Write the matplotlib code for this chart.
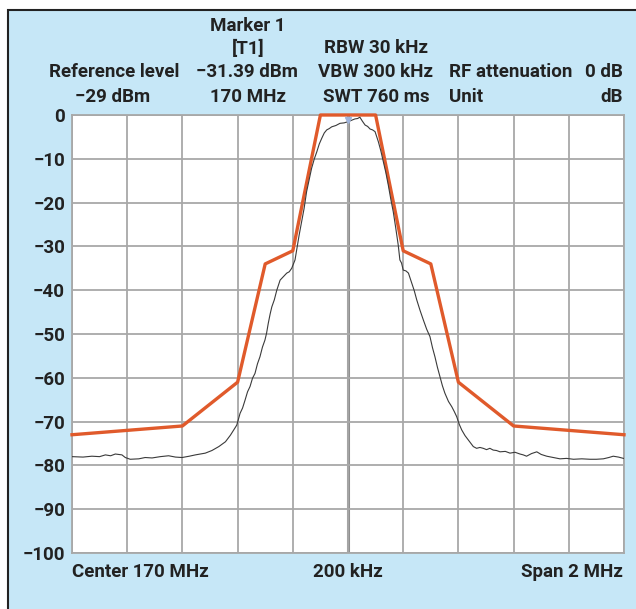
import numpy as np
import matplotlib.pyplot as plt
from matplotlib.patches import Rectangle

# 周波数オフセット (kHz, 中心 170 MHz からの差) とレベル (dB)
mask_freq = [-1000, -600, -400, -300, -200, -100, 100, 200, 300, 400, 600, 1000]
mask_level = [-73, -71, -61, -34, -31, 0, 0, -31, -34, -61, -71, -73]

trace_freq = [-1000, -960, -928, -900, -879, -860, -843, -819, -807, -789, -758, -735,
              -710, -680, -650, -625, -601, -575, -553, -517, -493, -468, -444, -426,
              -414, -403, -391, -382, -373, -364, -355, -346, -337, -328, -319, -310,
              -301, -295, -289, -282, -276, -267, -258, -246, -234, -222, -213, -204,
              -192, -186, -177, -168, -159, -150, -141, -132, -122, -113, -104, -95,
              -86, -77, -68, -59, -44, -29, -14, 1, 13, 25, 35, 43, 52, 62, 71, 80,
              89, 98, 110, 119, 128, 137, 146, 155, 164, 173, 182, 188, 194, 200, 210,
              219, 231, 240, 249, 261, 273, 285, 297, 306, 315, 324, 333, 342, 351, 364,
              376, 385, 394, 403, 412, 424, 436, 454, 466, 478, 490, 502, 514, 526, 538,
              551, 570, 587, 605, 623, 635, 647, 665, 684, 700, 720, 745, 768, 792, 817,
              847, 877, 900, 925, 945, 961, 980, 998]
trace_level = [-78.0, -78.1, -77.9, -78.0, -77.6, -77.8, -77.4, -77.6, -78.2, -78.6, -78.5, -78.2,
               -78.3, -78.0, -77.8, -78.1, -78.2, -77.9, -77.6, -77.2, -76.6, -75.7, -74.6, -73.1,
               -71.9, -70.8, -68.1, -66.9, -65.1, -63.2, -62.0, -60.1, -59.0, -56.8, -55.2, -53.0,
               -51.4, -49.8, -47.6, -45.4, -43.8, -42.2, -40.0, -37.7, -36.9, -36.1, -35.8, -35.0,
               -33.1, -30.8, -27.4, -24.4, -21.3, -17.5, -14.8, -12.2, -10.0, -8.4, -6.6, -5.3,
               -4.1, -3.4, -3.1, -2.7, -2.4, -1.9, -1.8, -1.5, -1.2, -0.9, -0.8, -0.5, -1.4, -2.3, -2.6, -3.2,
               -3.4, -3.8, -6.1, -8.2, -10.7, -13.1, -16.0, -19.2, -22.1, -25.8, -29.7, -33.1, -33.8, -35.4, -35.6,
               -36.1, -38.4, -40.1, -42.2, -44.6, -46.8, -48.9, -50.6, -53.1, -55.2, -57.6, -59.7, -61.8, -63.5, -65.4,
               -66.6, -67.7, -68.9, -70.6, -71.9, -73.2, -74.2, -75.7, -76.1, -75.9, -76.1, -76.4, -76.1, -76.5, -76.6,
               -76.9, -76.8, -77.2, -77.0, -77.4, -77.6, -77.9, -77.3, -76.9, -77.5, -77.9, -78.2, -78.5, -78.4, -78.6,
               -78.5, -78.6, -78.6, -78.5, -78.2, -77.9, -78.1, -78.4]

y_ticks = [0, -10, -20, -30, -40, -50, -60, -70, -80, -90, -100]
y_tick_labels = ['0', '−10', '−20', '−30', '−40', '−50', '−60', '−70', '−80', '−90', '−100']

plt.rcParams['font.family'] = ['Roboto', 'DejaVu Sans']
plt.rcParams['font.weight'] = 'bold'

W, H = 636, 609
fig = plt.figure(figsize=(W / 100, H / 100), dpi=100)

# 水色のパネル (左上に黒い枠線)
panel = Rectangle((8 / W, -0.1), 1.2, 1.1 - 10 / H, transform=fig.transFigure,
                  facecolor='#c6e7f7', edgecolor='#222222', linewidth=1.5, zorder=-5)
fig.patches.append(panel)

ax = fig.add_axes([72 / W, 1 - 553 / H, 552 / W, 438 / H])
ax.set_zorder(2)
ax.set_facecolor('white')
ax.set_xlim(-1000, 1000)
ax.set_ylim(-100, 0)
ax.set_xticks(np.arange(-1000, 1001, 200))
ax.set_yticks(y_ticks)
ax.set_yticklabels(y_tick_labels)
ax.tick_params(axis='x', length=0, labelbottom=False)
ax.tick_params(axis='y', length=0, pad=5, labelsize=13.5, labelcolor='#222222')
ax.grid(True, color='#a8a8a8', linewidth=1.3)
ax.axvline(0, color='#909090', linewidth=2.2, zorder=1)
for s in ax.spines.values():
    s.set_color('#a8a8a8')
    s.set_linewidth(1.3)

ax.plot(mask_freq, mask_level, color='#e05a2b', linewidth=2.4, clip_on=False, zorder=3)
ax.plot(trace_freq, trace_level, color='#3a3a3a', linewidth=0.8, zorder=4)
ax.plot([0], [-1.2], marker='v', markersize=4, color='#9fb4dc', zorder=5)


def ftext(x, y, s, ha='center'):
    fig.text(x / W, 1 - y / H, s, ha=ha, va='center', fontsize=13.5, color='#222222')


ftext(248, 26, 'Marker 1')
ftext(248, 49, '[T1]')
ftext(114, 72, 'Reference level')
ftext(247, 72, '−31.39 dBm')
ftext(113, 97, '−29 dBm')
ftext(248, 97, '170 MHz')
ftext(376, 48, 'RBW 30 kHz')
ftext(376, 72, 'VBW 300 kHz')
ftext(376, 97, 'SWT 760 ms')
ftext(449, 72, 'RF attenuation', ha='left')
ftext(623, 72, '0 dB', ha='right')
ftext(449, 97, 'Unit', ha='left')
ftext(623, 97, 'dB', ha='right')
ftext(72, 572, 'Center 170 MHz', ha='left')
ftext(348, 572, '200 kHz')
ftext(623, 572, 'Span 2 MHz', ha='right')

fig.savefig('out.png', dpi=100, facecolor='white')
